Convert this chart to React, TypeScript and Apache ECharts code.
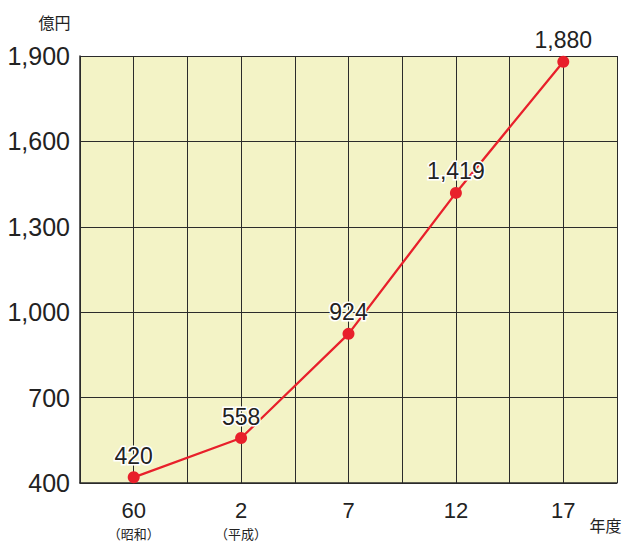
import React, { useEffect, useRef } from "react";
import * as echarts from "echarts";

const categories = ["60", "2", "7", "12", "17"];
const eraLabels = ["（昭和）", "（平成）", "", "", ""];
const values = [420, 558, 924, 1419, 1880];
const valueLabels = ["420", "558", "924", "1,419", "1,880"];
const yMin = 400;
const yMax = 1900;
const yStep = 300;

export default function App() {
  const ref = useRef<HTMLDivElement>(null);
  useEffect(() => {
    const chart = echarts.init(ref.current!, null, { renderer: "svg" });
    const lineColor = "#2b2b2b";
    chart.setOption({
      animation: false,
      backgroundColor: "#ffffff",
      grid: {
        left: 80,
        top: 56,
        right: 13,
        bottom: 69,
        show: true,
        backgroundColor: "#F3F3C6",
        borderWidth: 0,
      },
      xAxis: [
        {
          type: "category",
          data: categories,
          boundaryGap: true,
          axisLine: { show: true, lineStyle: { color: lineColor, width: 1.5 } },
          axisTick: { show: false },
          splitLine: { show: false },
          axisLabel: {
            margin: 14,
            interval: 0,
            formatter: (v: string, i: number) =>
              eraLabels[i] ? `{m|${v}}\n{s|${eraLabels[i]}}` : `{m|${v}}`,
            rich: {
              m: { fontSize: 22, fontFamily: "Liberation Sans", color: "#222", lineHeight: 26 },
              s: { fontSize: 13, fontFamily: "Noto Sans CJK JP", color: "#222", lineHeight: 20 },
            },
            verticalAlign: "top",
          },
        },
        {
          type: "value",
          min: 0,
          max: 10,
          interval: 1,
          position: "bottom",
          axisLine: { show: false },
          axisTick: { show: false },
          axisLabel: { show: false },
          splitLine: { show: true, lineStyle: { color: lineColor, width: 1 } },
        },
      ],
      yAxis: {
        type: "value",
        min: yMin,
        max: yMax,
        interval: yStep,
        axisLine: { show: true, lineStyle: { color: lineColor, width: 1.5 } },
        axisTick: { show: false },
        splitLine: { show: true, lineStyle: { color: lineColor, width: 1 } },
        axisLabel: {
          margin: 10,
          fontSize: 25,
          fontFamily: "Liberation Sans",
          color: "#222",
          formatter: (v: number) => v.toLocaleString("en-US"),
        },
      },
      graphic: [
        {
          type: "text",
          x: 54.5,
          y: 21.5,
          style: {
            text: "億円",
            fontSize: 16,
            fontFamily: "Noto Sans CJK JP",
            fill: "#222",
            align: "center",
            verticalAlign: "middle",
          },
        },
        {
          type: "text",
          x: 605.5,
          y: 524.5,
          style: {
            text: "年度",
            fontSize: 16,
            fontFamily: "Noto Sans CJK JP",
            fill: "#222",
            align: "center",
            verticalAlign: "middle",
          },
        },
      ],
      series: [
        {
          type: "line",
          xAxisIndex: 0,
          data: values,
          symbol: "circle",
          symbolSize: 12,
          itemStyle: { color: "#E8202B" },
          lineStyle: { color: "#E8202B", width: 2.3 },
          z: 5,
          label: {
            show: true,
            position: "top",
            distance: 4,
            fontSize: 23,
            fontFamily: "Liberation Sans",
            color: "#222",
            textBorderColor: "#ffffff",
            textBorderWidth: 3,
            formatter: (p: any) => valueLabels[p.dataIndex],
          },
        },
      ],
    });
    return () => chart.dispose();
  }, []);
  return <div ref={ref} style={{ width: 630, height: 552, position: "absolute", left: 0, top: 0 }} />;
}
